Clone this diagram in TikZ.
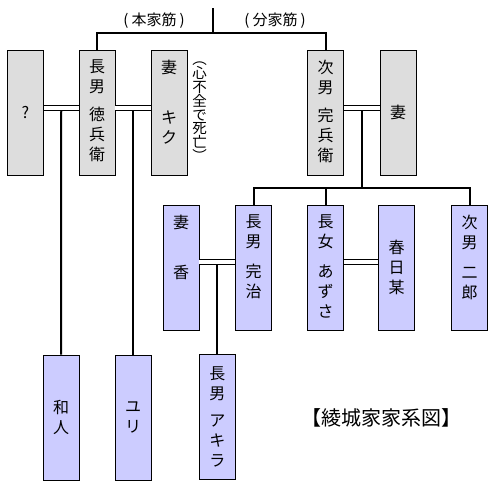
\documentclass[tikz,border=0pt]{standalone}
\usepackage{fontspec}
\setmainfont{Noto Sans CJK JP}
\usetikzlibrary{calc}
\definecolor{boxgray}{RGB}{221,221,221}
\definecolor{boxblue}{RGB}{204,204,255}
\begin{document}
\begin{tikzpicture}[x=1pt,y=-1pt,
  person/.style={draw=black, line width=0.8pt, minimum width=36pt, minimum height=125pt, inner sep=0pt,
    font=\fontsize{16}{20}\selectfont, align=center},
  gbox/.style={person, fill=boxgray},
  bbox/.style={person, fill=boxblue},
  nm/.style={font=\fontsize{16}{20}\selectfont, align=center, inner sep=0pt, anchor=north},
  head/.style={font=\fontsize{15}{15}\selectfont, inner sep=0pt},
  link/.style={line width=2pt},
  wed/.style={double, double distance=4pt, line width=1pt}]
\fill[white] (0,0) rectangle (497,493);
\useasboundingbox (0,0) rectangle (497,493);

% generation 1
\node[gbox] (q) at (25.5,112.5) {?};
\node[gbox] (toku) at (97,112.5) {};
\node[nm] (tokut) at ($(toku.north)+(0,10)$) {長\\男\\[8pt]徳\\兵\\衛};
\node[gbox] (kiku) at (169,112.5) {};
\node[nm] (kikut) at ($(kiku.north)+(0,10)$) {妻\\[30pt]キ\\ク};
\node[font=\fontsize{14.5}{13.8}\selectfont, align=center, inner sep=0pt, anchor=north] (note) at (199.5,62) {︵\\心\\不\\全\\で\\死\\亡\\︶};
\node[gbox] (kan) at (325.5,112.5) {};
\node[nm] (kant) at ($(kan.north)+(0,10)$) {次\\男\\[8pt]完\\兵\\衛};
\node[gbox] (kanw) at (398,112.5) {妻};

% generation 2
\node[bbox] (kaori) at (181,267.5) {};
\node[nm] (kaorit) at ($(kaori.north)+(0,10)$) {妻\\[30pt]香};
\node[bbox] (kanji) at (253.5,267.5) {};
\node[nm] (kanjit) at ($(kanji.north)+(0,10)$) {長\\男\\[10pt]完\\治};
\node[bbox] (azusa) at (325.5,267.5) {};
\node[nm] (azusat) at ($(azusa.north)+(0,10)$) {長\\女\\[10pt]あ\\ず\\さ};
\node[bbox] (kasuga) at (396.5,267.5) {春\\日\\某};
\node[bbox] (jiro) at (469.5,267.5) {};
\node[nm] (jirot) at ($(jiro.north)+(0,10)$) {次\\男\\[10pt]二\\郎};

% generation 3
\node[bbox] (kazuto) at (61,417.5) {和\\人};
\node[bbox] (yuri) at (133,417.5) {ユ\\リ};
\node[bbox] (akira) at (217.25,416.5) {};
\node[nm] (akirat) at ($(akira.north)+(0,13)$) {長\\男\\[7pt]ア\\キ\\ラ};

% labels
\node[head] (honke) at (154,21) {(\kern3pt本家筋\kern3pt)};
\node[head] (bunke) at (275,21) {(\kern3pt分家筋\kern3pt)};
\node[font=\fontsize{20}{20}\selectfont, inner sep=0pt] (title) at (381,418) {【綾城家家系図】};

% top split
\coordinate (top) at (213,8);
\coordinate (fork) at (213,33);
\draw[link] (top) -- (fork);
\draw[link] (toku.north) |- (fork) -| (kan.north);

% marriages
\draw[wed] ($(q.east)+(0,-5)$) -- ($(toku.west)+(0,-5)$);
\draw[wed] ($(toku.east)+(0,-5)$) -- ($(kiku.west)+(0,-5)$);
\draw[wed] ($(kan.east)+(0,-5)$) -- ($(kanw.west)+(0,-5)$);
\draw[wed] ($(kaori.east)+(0,-5.5)$) -- ($(kanji.west)+(0,-5.5)$);
\draw[wed] ($(azusa.east)+(0,-5.5)$) -- ($(kasuga.west)+(0,-5.5)$);

\coordinate (m1) at ($(q.east)!0.5!(toku.west)+(0,-2)$);
\coordinate (m2) at ($(toku.east)!0.5!(kiku.west)+(0,-2)$);
\coordinate (m3) at ($(kan.east)!0.5!(kanw.west)+(0,-2)$);
\coordinate (m4) at ($(kaori.east)!0.5!(kanji.west)+(0,-2.5)$);

\draw[link] (m1) -- (kazuto.north);
\draw[link] (m2) -- (yuri.north);
\draw[link] (m4) -- (akira.north);

\coordinate (bar) at ($(m3)+(0,77)$);
\draw[link] (m3) -- (bar);
\draw[link] (kanji.north) |- (bar) -| (jiro.north);
\draw[link] (azusa.north) -- (azusa.north |- bar);
\end{tikzpicture}
\end{document}
